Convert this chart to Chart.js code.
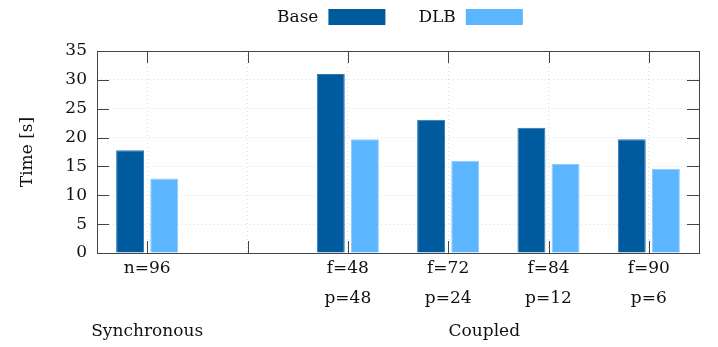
<!DOCTYPE html>
<html>
<head>
<meta charset="utf-8">
<script src="https://cdn.jsdelivr.net/npm/chart.js@4/dist/chart.umd.min.js"></script>
<style>
  html, body { margin: 0; padding: 0; background: #fff; }
</style>
</head>
<body>
<canvas id="chart" width="718" height="347"></canvas>
<script>
// --- datos ---
const categorias = [['n=96'], [''], ['f=48', 'p=48'], ['f=72', 'p=24'], ['f=84', 'p=12'], ['f=90', 'p=6']];
const tiempoBase = [17.8, null, 31.0, 23.1, 21.7, 19.7];
const tiempoDLB = [12.9, null, 19.7, 16.0, 15.4, 14.6];
const ticksY = [0, 5, 10, 15, 20, 25, 30, 35];
const grupos = [
    { texto: 'Synchronous', desde: 0, hasta: 0 },
    { texto: 'Coupled', desde: 2, hasta: 5 }
];

const FUENTE = '"DejaVu Serif", serif';
const colorTexto = '#111';
const colorEje = '#444';

// marco, ticks hacia adentro, leyenda y etiquetas de grupo
const decoraciones = {
    id: 'decoraciones',
    afterDraw(chart) {
        const ctx = chart.ctx;
        const area = chart.chartArea;
        const x = chart.scales.x;
        const y = chart.scales.y;
        const largo = 12;

        ctx.save();
        ctx.strokeStyle = colorEje;
        ctx.lineWidth = 1;
        ctx.beginPath();
        ticksY.forEach(v => {
            const py = Math.round(y.getPixelForValue(v)) + 0.5;
            ctx.moveTo(area.left, py); ctx.lineTo(area.left + largo, py);
            ctx.moveTo(area.right, py); ctx.lineTo(area.right - largo, py);
        });
        categorias.forEach((c, i) => {
            const px = Math.round(x.getPixelForValue(i)) + 0.5;
            ctx.moveTo(px, area.bottom); ctx.lineTo(px, area.bottom - largo);
            ctx.moveTo(px, area.top); ctx.lineTo(px, area.top + largo);
        });
        ctx.stroke();
        ctx.strokeRect(Math.round(area.left) + 0.5, Math.round(area.top) + 0.5,
            Math.round(area.right - area.left), Math.round(area.bottom - area.top));

        // titulo eje Y
        ctx.fillStyle = colorTexto;
        ctx.font = '17px ' + FUENTE;
        ctx.textAlign = 'center';
        ctx.textBaseline = 'middle';
        ctx.translate(28, (area.top + area.bottom) / 2);
        ctx.rotate(-Math.PI / 2);
        ctx.fillText('Time [s]', 0, 0);
        ctx.setTransform(1, 0, 0, 1, 0, 0);

        // grupos
        grupos.forEach(g => {
            let cx = (x.getPixelForValue(g.desde) + x.getPixelForValue(g.hasta)) / 2;
            if (g.desde !== g.hasta) cx -= 14;
            ctx.fillText(g.texto, cx, 332);
        });

        // leyenda: texto y luego caja
        let lx = 277;
        ctx.textAlign = 'left';
        chart.data.datasets.forEach(ds => {
            ctx.fillStyle = colorTexto;
            ctx.fillText(ds.label, lx, 18);
            lx += ctx.measureText(ds.label).width + 10;
            ctx.fillStyle = ds.backgroundColor;
            ctx.fillRect(lx, 9, 57, 16);
            lx += 57 + 33;
        });
        ctx.restore();
    }
};

new Chart(document.getElementById('chart'), {
    type: 'bar',
    data: {
        labels: categorias,
        datasets: [
            {
                label: 'Base',
                data: tiempoBase,
                backgroundColor: '#005a9e',
                borderColor: '#2f76b3',
                borderWidth: 1,
                categoryPercentage: 0.68,
                barPercentage: 0.82
            },
            {
                label: 'DLB',
                data: tiempoDLB,
                backgroundColor: '#5cb5ff',
                borderColor: '#8ccaff',
                borderWidth: 1,
                categoryPercentage: 0.68,
                barPercentage: 0.82
            }
        ]
    },
    options: {
        responsive: false,
        animation: false,
        devicePixelRatio: 1,
        layout: { padding: { top: 51, right: 19, bottom: 0, left: 0 } },
        plugins: {
            legend: { display: false },
            tooltip: { enabled: false }
        },
        scales: {
            x: {
                offset: true,
                grid: { color: '#dddddd', drawTicks: false, offset: false },
                border: { display: false, dash: [1, 3] },
                ticks: {
                    color: colorTexto,
                    font: { family: FUENTE, size: 17, lineHeight: 1.8 },
                    padding: 0,
                    maxRotation: 0,
                    autoSkip: false
                },
                afterFit: s => { s.height = 94; }
            },
            y: {
                min: 0,
                max: 35,
                afterBuildTicks: s => { s.ticks = ticksY.map(v => ({ value: v })); },
                grid: { color: '#dddddd', drawTicks: false },
                border: { display: false, dash: [1, 3] },
                ticks: {
                    color: colorTexto,
                    font: { family: FUENTE, size: 17 },
                    padding: 10
                },
                afterFit: s => { s.width = 97; }
            }
        }
    },
    plugins: [decoraciones]
});
</script>
</body>
</html>
